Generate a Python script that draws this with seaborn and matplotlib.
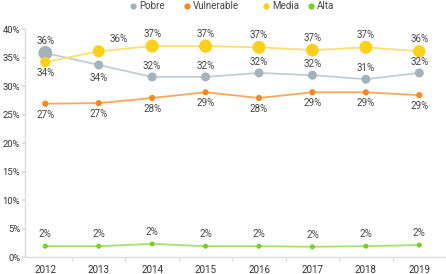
import matplotlib
matplotlib.use("Agg")
import matplotlib.pyplot as plt
import seaborn as sns
import pandas as pd

years = ["2012", "2013", "2014", "2015", "2016", "2017", "2018", "2019"]
series_names = ["Pobre", "Vulnerable", "Media", "Alta"]
pobre = [35.8, 33.7, 31.6, 31.6, 32.3, 31.9, 31.2, 32.3]
vulnerable = [26.9, 27.0, 27.9, 28.9, 27.9, 28.9, 28.9, 28.4]
media = [34.2, 36.1, 37.0, 37.0, 36.8, 36.3, 36.8, 36.1]
alta = [1.9, 1.9, 2.3, 1.9, 1.9, 1.8, 1.9, 2.1]
pobre_labels = ["36%", "34%", "32%", "32%", "32%", "32%", "31%", "32%"]
vulnerable_labels = ["27%", "27%", "28%", "29%", "28%", "29%", "29%", "29%"]
media_labels = ["34%", "36%", "37%", "37%", "37%", "37%", "37%", "36%"]
alta_labels = ["2%"] * 8
y_ticks = [0, 5, 10, 15, 20, 25, 30, 35, 40]
y_tick_labels = ["0%", "5%", "10%", "15%", "20%", "25%", "30%", "35%", "40%"]

# marker sizes (area) per point
pobre_sizes = [100, 42, 42, 42, 42, 42, 42, 42]
media_sizes = [55, 75, 90, 90, 88, 85, 88, 80]
vulnerable_sizes = [20] * 8
alta_sizes = [13] * 8

colors = {"Pobre": "#A4B3BB", "Vulnerable": "#F7871F", "Media": "#FDD01E", "Alta": "#74D021"}
line_colors = {"Pobre": "#C3CED4", "Vulnerable": "#F9A75C", "Media": "#FDDF70", "Alta": "#A6E06A"}

values = {"Pobre": pobre, "Vulnerable": vulnerable, "Media": media, "Alta": alta}
labels = {"Pobre": pobre_labels, "Vulnerable": vulnerable_labels, "Media": media_labels, "Alta": alta_labels}
sizes = {"Pobre": pobre_sizes, "Vulnerable": vulnerable_sizes, "Media": media_sizes, "Alta": alta_sizes}

rows = []
for s in series_names:
    for i, y in enumerate(years):
        rows.append({"idx": i, "year": y, "serie": s, "valor": values[s][i],
                     "size": sizes[s][i], "label": labels[s][i]})
df = pd.DataFrame(rows)

sns.set_theme(style="white")
plt.rcParams["font.family"] = ["Roboto", "DejaVu Sans"]

W, H = 446, 274
fig = plt.figure(figsize=(W / 100, H / 100), dpi=100)
ax = fig.add_axes([25 / W, 0.062, 1 - 25 / W, 0.832])

for s in series_names:
    d = df[df.serie == s]
    sns.lineplot(data=d, x="idx", y="valor", ax=ax, color=line_colors[s], lw=1.3,
                 legend=False, zorder=2)
    ax.scatter(d["idx"], d["valor"], s=d["size"], color=colors[s], zorder=3, linewidths=0)

# label placement offsets (points)
offsets = {
    "Pobre": [(0, 8.5), (0, -9.5)] + [(0, 8)] * 6,
    "Media": [(0, -8)] + [(14, 9)] + [(0, 8.5)] * 6,
    "Vulnerable": [(0, -8)] * 8,
    "Alta": [(0, 8.5)] * 8,
}
for s in series_names:
    d = df[df.serie == s].reset_index(drop=True)
    for i, r in d.iterrows():
        dx, dy = offsets[s][i]
        ax.annotate(r["label"], (r["idx"], r["valor"]), xytext=(dx, dy),
                    textcoords="offset points", ha="center", va="center",
                    fontsize=7, color="#444444", zorder=4)

ax.set_xlim(-0.38, 7.33)
ax.set_ylim(0, 40)
ax.set_xticks(range(len(years)))
ax.set_xticklabels(years)
ax.set_xticks([i + 0.5 for i in range(len(years))], minor=True)
ax.set_yticks(y_ticks)
ax.set_yticklabels(y_tick_labels)
ax.tick_params(axis="x", which="major", length=0, labelsize=7, colors="#333333", pad=6)
ax.tick_params(axis="x", which="minor", length=3, color="#DDDDDD", bottom=True)
ax.tick_params(axis="y", which="major", length=2, color="#DDDDDD", left=True, labelsize=6.8,
               colors="#333333", pad=1.5)
for sp in ["top", "right"]:
    ax.spines[sp].set_visible(False)
for sp in ["left", "bottom"]:
    ax.spines[sp].set_color("#DDDDDD")
    ax.spines[sp].set_linewidth(1)
ax.set_xlabel("")
ax.set_ylabel("")

# legend, placed as in the reference
legend_x = [133, 187, 266, 311]
legend_y = 6
for s, lx in zip(series_names, legend_x):
    fig.lines.append(plt.Line2D([lx / W], [1 - legend_y / H], transform=fig.transFigure,
                                marker="o", markersize=4.5, markerfacecolor=colors[s],
                                markeredgewidth=0, linestyle="none"))
    fig.text((lx + 6) / W, 1 - legend_y / H, s, ha="left", va="center",
             fontsize=7, color="#444444")

fig.savefig("out.png", dpi=100)
